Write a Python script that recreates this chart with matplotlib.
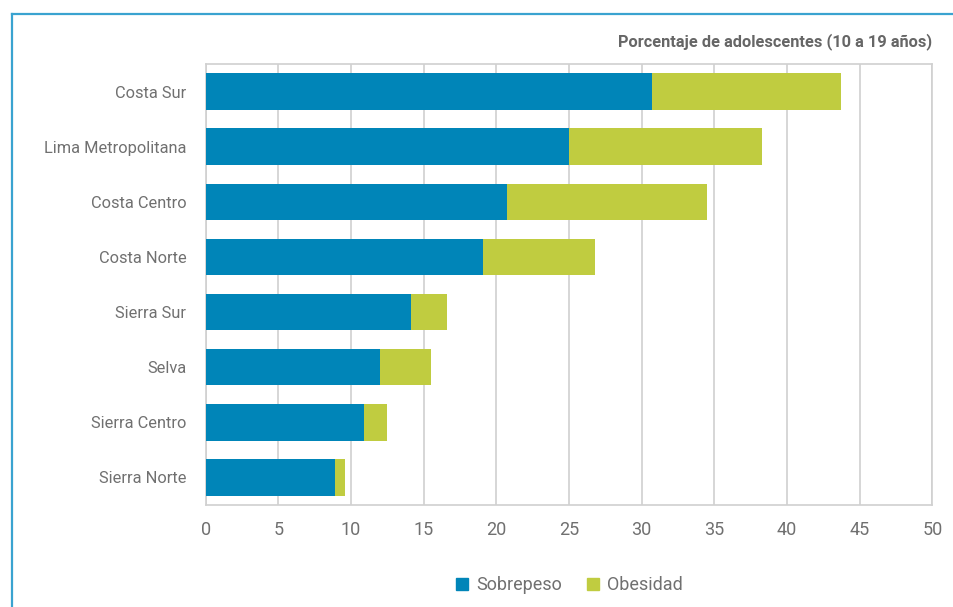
import matplotlib.pyplot as plt
from matplotlib.lines import Line2D

plt.rcParams['font.family'] = ['Roboto', 'DejaVu Sans']

# ---- Data: overweight / obesity among adolescents by region ----

regions    = ['Costa Sur', 'Lima Metropolitana', 'Costa Centro', 'Costa Norte',
              'Sierra Sur', 'Selva', 'Sierra Centro', 'Sierra Norte']
sobrepeso  = [30.7, 25.0, 20.7, 19.1, 14.1, 12.0, 10.9, 8.9]
obesidad   = [13.0, 13.3, 13.8, 7.7, 2.5, 3.5, 1.6, 0.7]
x_ticks    = [0, 5, 10, 15, 20, 25, 30, 35, 40, 45, 50]

blue  = '#0085b8'
green = '#c0cc40'
grey_text = '#707070'
grid_grey = '#d0d0d0'

W, H = 954, 607
fig = plt.figure(figsize=(W / 100, H / 100), dpi=100)
ax = fig.add_axes([205.7 / W, 1 - 505 / H, (932.3 - 205.7) / W, (505 - 64) / H])

positions = list(range(len(regions)))
ax.barh(positions, sobrepeso, height=0.66, color=blue, zorder=3, label='Sobrepeso')
ax.barh(positions, obesidad, left=sobrepeso, height=0.66, color=green, zorder=3,
        label='Obesidad')

ax.set_ylim(len(regions) - 0.5, -0.5)
ax.set_xlim(0, 50)
ax.set_yticks(positions)
ax.set_yticklabels(regions, fontsize=11.8, color=grey_text)
ax.set_xticks(x_ticks)
ax.set_xticklabels([str(t) for t in x_ticks], fontsize=13, color=grey_text)
ax.tick_params(axis='y', length=0, pad=14)
ax.tick_params(axis='x', length=0, pad=11.5)

ax.grid(axis='x', color=grid_grey, linewidth=1.2, zorder=0)
for side in ['left', 'right', 'top', 'bottom']:
    ax.spines[side].set_color(grid_grey)
    ax.spines[side].set_linewidth(1.2)

fig.text(932 / W, 1 - 42 / H, 'Porcentaje de adolescentes (10 a 19 años)',
         ha='right', va='center', fontsize=11.8, fontweight='bold', color='#666666')

handles = [Line2D([], [], linestyle='none', marker='s', markersize=8.5,
                  markerfacecolor=c, markeredgecolor=c) for c in (blue, green)]
fig.legend(handles, ['Sobrepeso', 'Obesidad'], loc='center',
           bbox_to_anchor=(568 / W, 1 - 585 / H), ncol=2, frameon=False,
           fontsize=13, labelcolor=grey_text, handletextpad=0.3,
           columnspacing=1.2, handlelength=1.0)

# light blue frame along the top and left edges
frame_blue = '#3aa3d0'
fig.add_artist(Line2D([12 / W, 1.0], [1 - 14 / H, 1 - 14 / H], color=frame_blue,
                      linewidth=1.6, transform=fig.transFigure))
fig.add_artist(Line2D([12 / W, 12 / W], [1 - 14 / H, 0.0], color=frame_blue,
                      linewidth=1.6, transform=fig.transFigure))

fig.savefig('out.png', dpi=100)
